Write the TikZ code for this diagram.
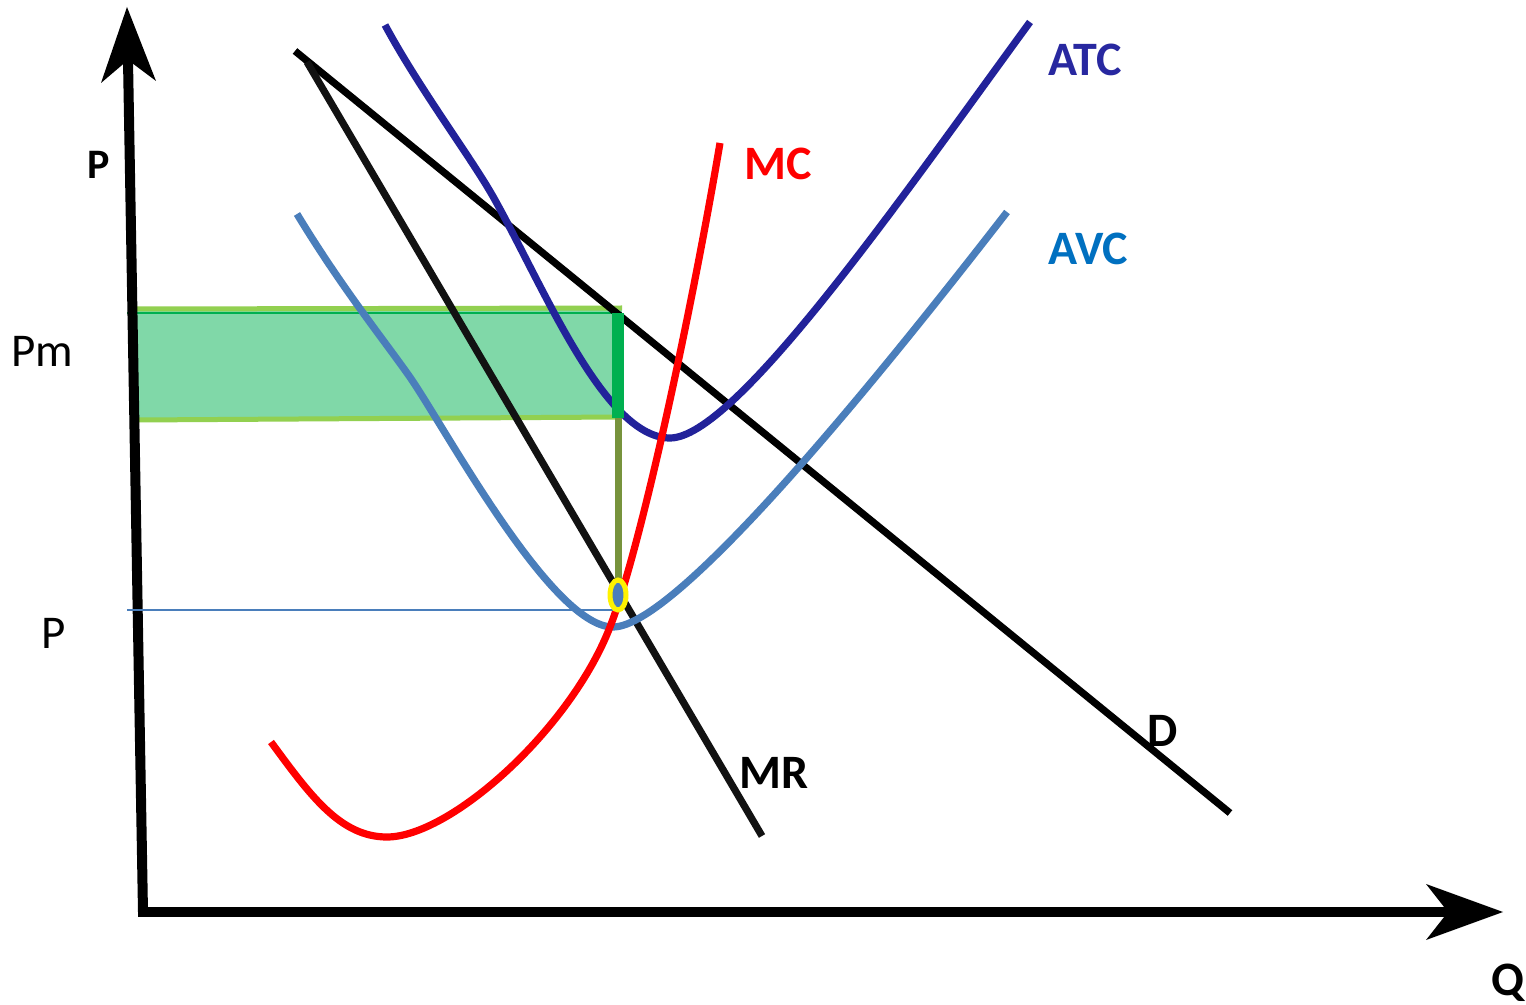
\documentclass[tikz,border=0pt]{standalone}
\usepackage{fontspec}
\setmainfont{Carlito}
\usetikzlibrary{calc}
\definecolor{atcblue}{RGB}{34,34,154}
\definecolor{atctext}{RGB}{40,40,160}
\definecolor{avcblue}{RGB}{74,126,187}
\definecolor{avctext}{RGB}{0,112,192}
\definecolor{greenfill}{RGB}{128,216,168}
\definecolor{lightgreen}{RGB}{146,208,80}
\definecolor{darkgreen}{RGB}{0,176,80}
\definecolor{olive}{RGB}{119,147,60}
\tikzset{
  lbl/.style={inner sep=0pt, anchor=base west, font=\fontsize{24}{28}\selectfont\bfseries},
  lblreg/.style={inner sep=0pt, anchor=base west, font=\fontsize{23.5}{28}\selectfont},
  curve/.style={line width=3.6pt, line cap=butt},
  axis/.style={line width=5pt},
}
\begin{document}
\begin{tikzpicture}[x=0.5pt,y=-0.5pt]
\useasboundingbox[fill=white] (0,0) rectangle (1526,1005);

% shaded rectangle
\fill[greenfill] (137,310) rectangle (622,419);
\draw[lightgreen, line width=2.5pt] (137,309) -- (622,308);
\draw[lightgreen, line width=2.5pt] (137,420) -- (622,417);
\draw[darkgreen, line width=1pt] (127,313) -- (622,313);

% axes
\coordinate (O) at (143,912);
\coordinate (ytop) at (128,60);
\coordinate (xend) at (1450,912);
\draw[axis] (O) -- (ytop);
\draw[axis] ($(O)+(-5,0)$) -- (xend);
\fill (127,7) -- (156,81) -- (128,60) -- (101,83) -- cycle;
\fill (1503,912) -- (1426,884) -- (1448,912) -- (1426,940) -- cycle;

% demand and MR
\coordinate (Dstart) at (295,51);
\coordinate (Dend) at (1230,813);
\coordinate (MRstart) at (307,62);
\coordinate (MRend) at (762,836);
\draw[curve, black] (Dstart) -- (Dend);
\draw[curve, black!93] (MRstart) -- (MRend);

% AVC
\draw[curve, avcblue] (297,214) .. controls (340,285) and (380,335) .. (407,373)
  .. controls (440,418) and (550,627) .. (613,627)
  .. controls (680,627) and (900,350) .. (1007,212);

% ATC
\draw[curve, atcblue] (385,25) .. controls (420,90) and (473,160) .. (495,200)
  .. controls (545,290) and (605,438) .. (670,438)
  .. controls (735,438) and (900,200) .. (1030,22);

% MC
\draw[curve, red] (271,742) .. controls (310,795) and (340,837) .. (387,837)
  .. controls (450,837) and (570,730) .. (610,627)
  .. controls (640,550) and (690,320) .. (720,143);

% guide lines
\draw[darkgreen, line width=6pt] (618,313) -- (618,418);
\draw[olive, line width=3.5pt] (618,418) -- (618,585);
\draw[avcblue, line width=1pt] (127,610) -- (618,610);
\draw[yellow, line width=2.5pt, fill=avcblue] (618,595) ellipse [x radius=8, y radius=15];

% labels
\node[lbl, font=\fontsize{21}{24}\selectfont\bfseries] (lP) at (87,179) {P};
\node[lblreg] (lPm) at (11,367) {Pm};
\node[lblreg] (lPc) at (41,648) {P};
\node[lbl, text=atctext] (lATC) at (1048,76) {ATC};
\node[lbl, text=red] (lMC) at (744,180) {MC};
\node[lbl, text=avctext] (lAVC) at (1048,265) {AVC};
\node[lbl] (lD) at (1147,746) {D};
\node[lbl] (lMR) at (739,788) {MR};
\node[lbl] (lQ) at (1491,995) {Q};
\end{tikzpicture}
\end{document}
